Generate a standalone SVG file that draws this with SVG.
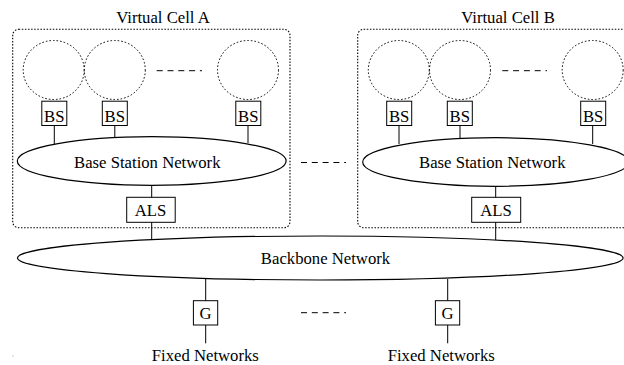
<svg xmlns="http://www.w3.org/2000/svg" width="624" height="365" viewBox="0 0 624 365">
<style>
text{font-family:"Liberation Serif","Times New Roman",serif;font-size:16.7px;fill:#000;text-anchor:middle}
.dot{fill:none;stroke:#000;stroke-width:1.1;stroke-dasharray:1.5 1.6}
.cell{fill:none;stroke:#000;stroke-width:1;stroke-dasharray:1.6 2}
.box{fill:#fff;stroke:#000;stroke-width:1}
.net{fill:#fff;stroke:#000;stroke-width:1.2}
.ln{stroke:#000;stroke-width:1;fill:none}
.dash{stroke:#000;stroke-width:1;stroke-dasharray:6 4.8;fill:none}
</style>
<rect width="624" height="365" fill="#fff"/>
<g id="vcellA">
<rect class="dot" x="12.7" y="29.3" width="277.3" height="198.4" rx="6"/>
<text x="163" y="22.5">Virtual Cell A</text>
</g>
<g id="vcellB">
<rect class="dot" x="357.7" y="29.3" width="280" height="198.4" rx="6"/>
<text x="508" y="22.5">Virtual Cell B</text>
</g>
<g id="connectors">
<line class="ln" x1="54.3" y1="125" x2="54.3" y2="144.5"/>
<line class="ln" x1="114.8" y1="125" x2="114.8" y2="138.5"/>
<line class="ln" x1="248" y1="125" x2="248" y2="143"/>
<line class="ln" x1="399" y1="125" x2="399" y2="144"/>
<line class="ln" x1="460" y1="125" x2="460" y2="138.5"/>
<line class="ln" x1="592.7" y1="125" x2="592.7" y2="144"/>
<line class="ln" x1="151.7" y1="185" x2="151.7" y2="240"/>
<line class="ln" x1="495.7" y1="186" x2="495.7" y2="240"/>
<line class="ln" x1="205.7" y1="279" x2="205.7" y2="343.3"/>
<line class="ln" x1="447.7" y1="279" x2="447.7" y2="343.3"/>
<line class="dash" x1="156.7" y1="70.7" x2="202" y2="70.7"/>
<line class="dash" x1="502.3" y1="70.7" x2="547" y2="70.7"/>
<line class="dash" x1="301" y1="162.5" x2="346" y2="162.5"/>
<line class="dash" x1="301" y1="312.7" x2="346" y2="312.7"/>
</g>
<g id="cellA1"><ellipse class="cell" cx="53.7" cy="70" rx="30.5" ry="29.5"/></g>
<g id="cellA2"><ellipse class="cell" cx="114.8" cy="70" rx="30.5" ry="29.5"/></g>
<g id="cellA3"><ellipse class="cell" cx="248" cy="70" rx="30.5" ry="29.5"/></g>
<g id="cellB1"><ellipse class="cell" cx="398.8" cy="70" rx="30.5" ry="29.5"/></g>
<g id="cellB2"><ellipse class="cell" cx="460" cy="70" rx="30.5" ry="29.5"/></g>
<g id="cellB3"><ellipse class="cell" cx="592.7" cy="70" rx="30.5" ry="29.5"/></g>
<g id="bsA1"><rect class="box" x="41.8" y="101.2" width="25" height="24.3"/><text x="54.3" y="121.5">BS</text></g>
<g id="bsA2"><rect class="box" x="102.3" y="101.2" width="25" height="24.3"/><text x="114.8" y="121.5">BS</text></g>
<g id="bsA3"><rect class="box" x="235.8" y="101.2" width="25" height="24.3"/><text x="248.3" y="121.5">BS</text></g>
<g id="bsB1"><rect class="box" x="386.7" y="101.2" width="25" height="24.3"/><text x="399.2" y="121.5">BS</text></g>
<g id="bsB2"><rect class="box" x="447.3" y="101.2" width="25" height="24.3"/><text x="459.8" y="121.5">BS</text></g>
<g id="bsB3"><rect class="box" x="580.7" y="101.2" width="25" height="24.3"/><text x="593.2" y="121.5">BS</text></g>
<g id="bsnA"><ellipse class="net" cx="151.7" cy="161" rx="134.4" ry="24.3"/><text x="147.3" y="168">Base Station Network</text></g>
<g id="bsnB"><ellipse class="net" cx="495.7" cy="162" rx="133" ry="24.3"/><text x="492.3" y="168">Base Station Network</text></g>
<g id="alsA"><rect class="box" x="126.7" y="197.3" width="48.5" height="25"/><text x="150.5" y="216">ALS</text></g>
<g id="alsB"><rect class="box" x="471.7" y="197.3" width="49" height="25"/><text x="496" y="216">ALS</text></g>
<g id="backbone"><ellipse class="net" cx="320.3" cy="258" rx="302.8" ry="22"/><text x="325.5" y="264">Backbone Network</text></g>
<g id="g1"><rect class="box" x="193.4" y="300.7" width="24.3" height="24.3"/><text x="205.6" y="319">G</text></g>
<g id="g2"><rect class="box" x="435.4" y="300.7" width="24.3" height="24.3"/><text x="447.6" y="319">G</text></g>
<g id="fixed1"><text x="205.3" y="361">Fixed Networks</text></g>
<g id="fixed2"><text x="441.2" y="361">Fixed Networks</text></g>
<rect x="12.5" y="355.5" width="1" height="1" fill="#999"/>
</svg>
